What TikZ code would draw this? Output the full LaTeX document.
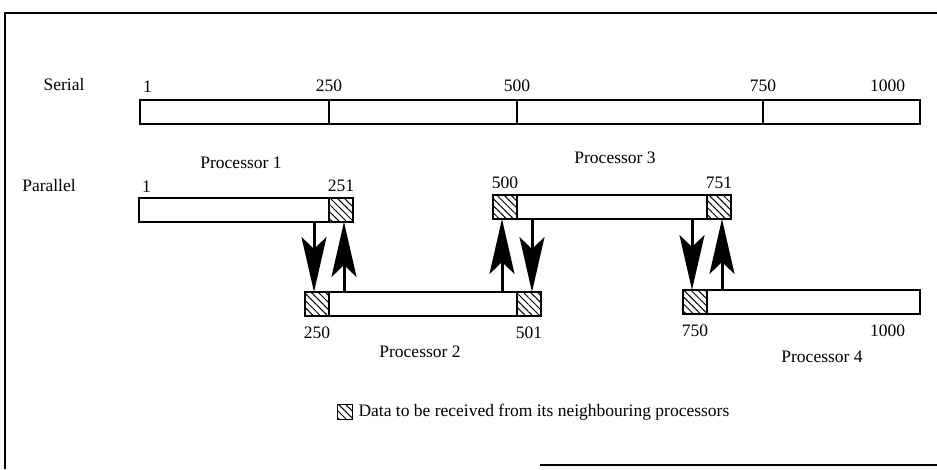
\documentclass[tikz,border=0pt]{standalone}
\usepackage{fontspec}
\setmainfont{Liberation Serif}
\usetikzlibrary{arrows.meta,positioning,patterns.meta}

\begin{document}
\begin{tikzpicture}[x=1pt,y=-1pt,>=Stealth,
    every node/.style={font=\fontsize{17.5}{20}\selectfont,inner sep=0pt,outer sep=0pt},
    bar/.style={draw,line width=1.5pt,minimum height=24pt,anchor=north west},
    hatchcell/.style={draw,line width=1.5pt,minimum width=24pt,minimum height=24pt,
      pattern={Lines[angle=-45,distance=5pt,line width=1pt]}},
    flow/.style={-{Stealth[length=55pt,width=25pt,inset=12pt]},line width=3pt}]
  \useasboundingbox (0,0) rectangle (937,469);
  % frame
  \draw[line width=1.6pt] (5,469) -- (5,13) -- (937,13);
  \draw[line width=1.6pt] (540,465) -- (937,465);
  % serial
  \node (serlab) at (64,85) {Serial};
  \node[bar,minimum width=780pt] (ser) at (140,100) {};
  \foreach \x/\n in {329/250,517/500,763/750}{
    \coordinate (d\n) at (\x,100);
    \draw[line width=1.5pt] (d\n) -- (ser.south -| d\n);
    \node[above=8pt of d\n] (s\n) {\n};
  }
  \node[above right=8pt and 3pt of ser.north west] (s1) {1};
  \node[above left=8pt and 15pt of ser.north east] (s1000) {1000};
  % parallel
  \node (parlab) at (49,186) {Parallel};
  \node[bar,minimum width=214pt] (p1) at (139,198) {};
  \node[bar,minimum width=238pt] (p3) at (493,195) {};
  \node[bar,minimum width=236pt] (p2) at (305,292) {};
  \node[bar,minimum width=237pt] (p4) at (683,290) {};
  \node[hatchcell,anchor=north east] (h1) at (p1.north east) {};
  \node[hatchcell,anchor=north west] (h3a) at (p3.north west) {};
  \node[hatchcell,anchor=north east] (h3b) at (p3.north east) {};
  \node[hatchcell,anchor=north west] (h2a) at (p2.north west) {};
  \node[hatchcell,anchor=north east] (h2b) at (p2.north east) {};
  \node[hatchcell,anchor=north west] (h4) at (p4.north west) {};
  % indices
  \node[above right=6pt and 3pt of p1.north west] (i1) {1};
  \node[above=6pt of h1] (i251) {251};
  \node[above=6pt of h3a] (i500) {500};
  \node[above=6pt of h3b] (i751) {751};
  \node[below=11pt of h2a] (i250) {250};
  \node[below=11pt of h2b] (i501) {501};
  \node[below=11pt of h4] (i750) {750};
  \node[below left=11pt and 15pt of p4.south east] (i1000) {1000};
  % processor names
  \node (n1) at (241,163) {Processor 1};
  \node (n3) at (615,158) {Processor 3};
  \node (n2) at (420,352) {Processor 2};
  \node (n4) at (822,357) {Processor 4};
  % exchanges
  \draw[flow] ([xshift=-3pt]h2a.north |- p1.south) -- ([xshift=-3pt]h2a.north);
  \draw[flow] ([xshift=3pt]h1.south |- p2.north) -- ([xshift=3pt]h1.south);
  \draw[flow] ([xshift=-3pt]h3a.south |- p2.north) -- ([xshift=-3pt]h3a.south);
  \draw[flow] ([xshift=3pt]h2b.north |- p3.south) -- ([xshift=3pt]h2b.north);
  \draw[flow] ([xshift=-3pt]h4.north |- p3.south) -- ([xshift=-3pt]h4.north);
  \draw[flow] ([xshift=3pt]h3b.south |- p4.north) -- ([xshift=3pt]h3b.south);
  % key
  \node[hatchcell,minimum width=15pt,minimum height=15pt] (key) at (345,412) {};
  \node[right=6pt of key] (keytext) {Data to be received from its neighbouring processors};
\end{tikzpicture}
\end{document}
